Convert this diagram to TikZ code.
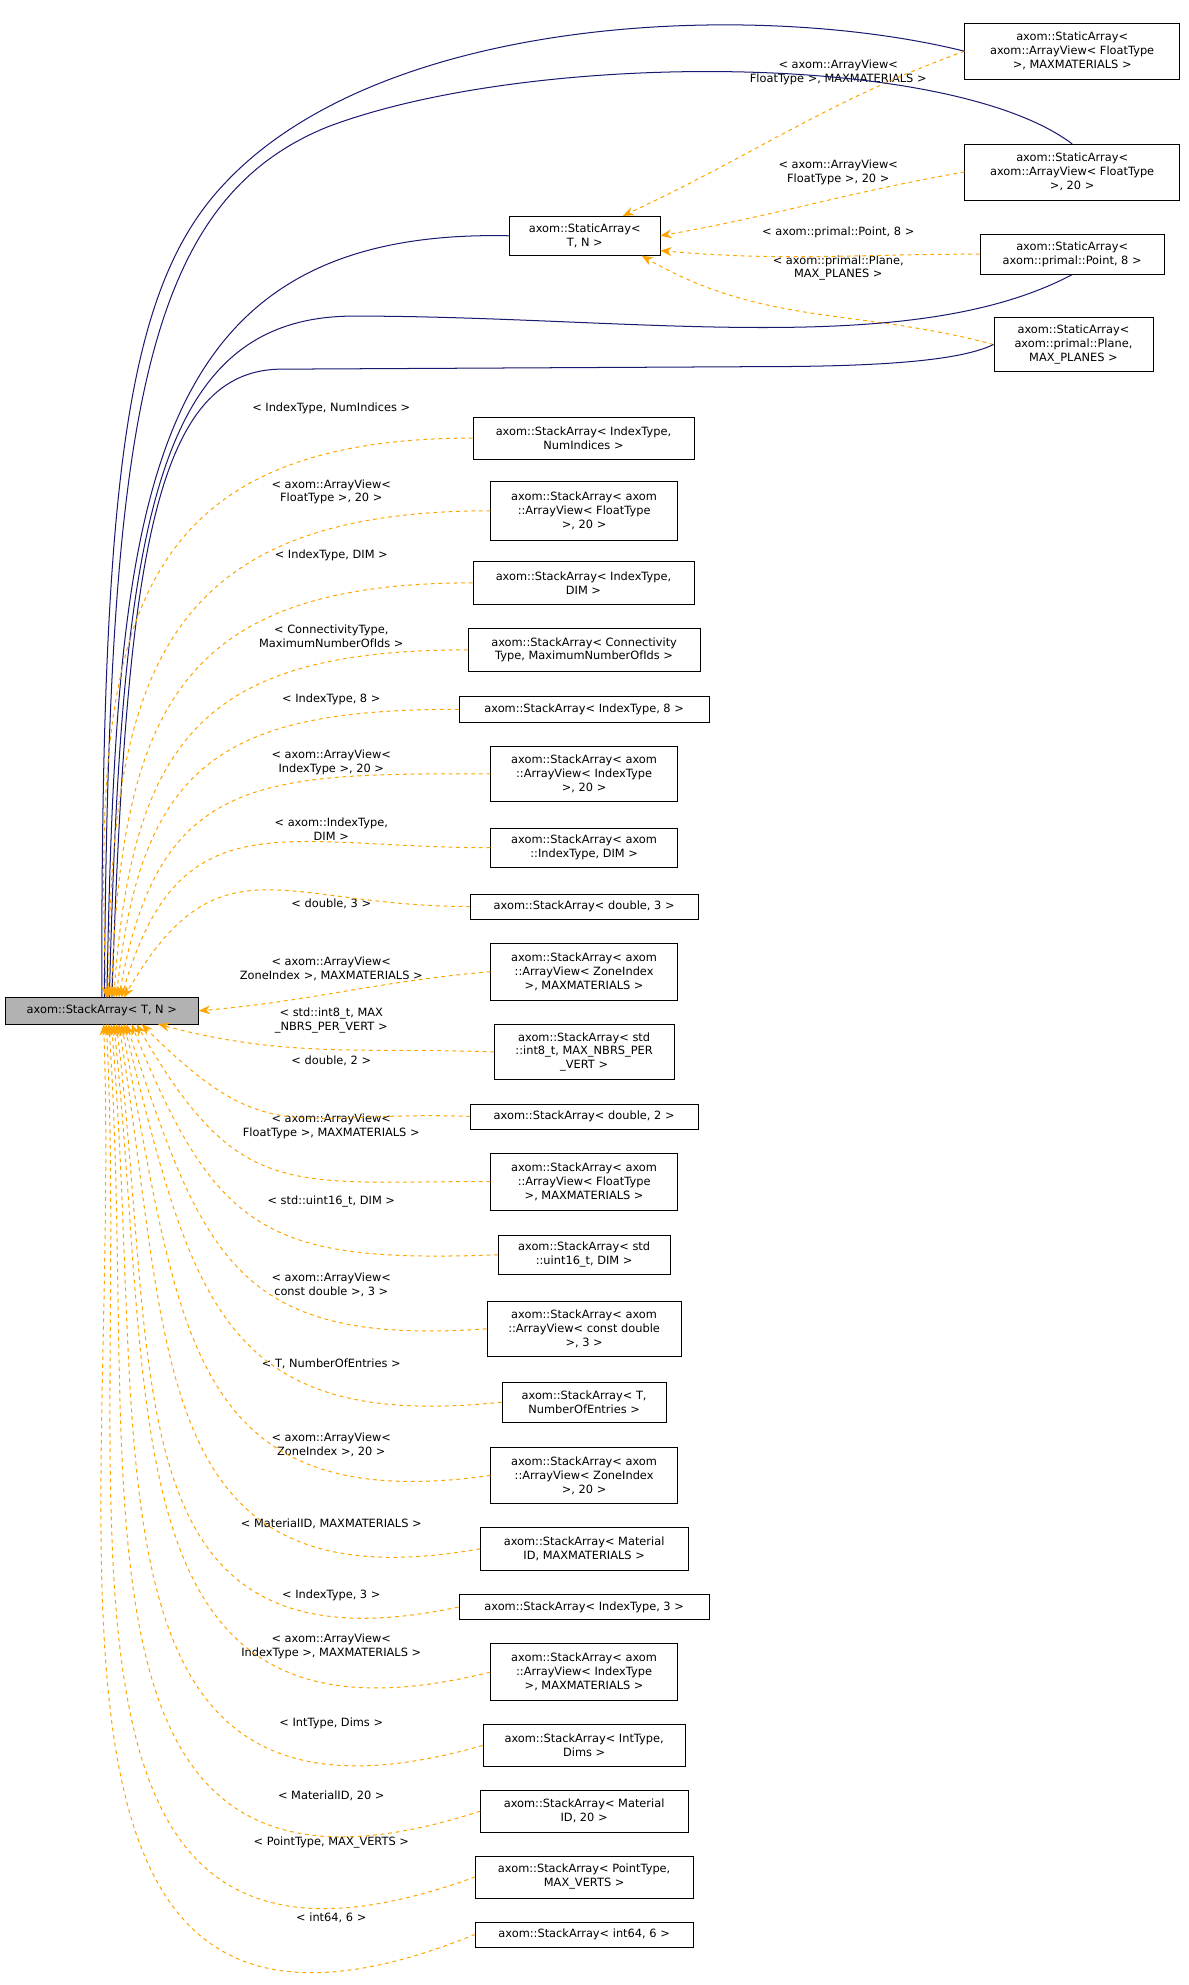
\documentclass[tikz,border=0pt]{standalone}
\usepackage{fontspec}
\setmainfont{DejaVu Sans}
\usetikzlibrary{arrows.meta}
\definecolor{dorange}{RGB}{255,165,0}
\definecolor{dnavy}{RGB}{25,25,112}
\begin{document}
\begin{tikzpicture}[x=1pt,y=-1pt,
  box/.style={draw,inner sep=1pt,align=center,font=\fontsize{9}{11}\selectfont},
  lbl/.style={align=center,font=\fontsize{9}{11}\selectfont},
  dep/.style={draw=dorange,dashed,line width=0.8pt,-{Stealth[length=9,width=7,fill=dorange]}},
  col/.style={draw=dnavy,line width=0.8pt}]
\useasboundingbox (0,0) rectangle (940,1570);
\node[box,fill=gray!60,minimum width=153,minimum height=21] (main) at (80.5,799.5) {axom::StackArray< T, N >};
\node[box,minimum width=119,minimum height=31] (sa) at (462.5,186.5) {axom::StaticArray<\\T, N >};
\node[box,minimum width=170,minimum height=45] (s1) at (848,40.5) {axom::StaticArray<\\ axom::ArrayView< FloatType\\ >, MAXMATERIALS >};
\node[box,minimum width=170,minimum height=44] (s2) at (848,136) {axom::StaticArray<\\ axom::ArrayView< FloatType\\ >, 20 >};
\node[box,minimum width=146,minimum height=32] (s3) at (848,201) {axom::StaticArray<\\ axom::primal::Point, 8 >};
\node[box,minimum width=126,minimum height=43] (s4) at (849,272.5) {axom::StaticArray<\\ axom::primal::Plane,\\ MAX\_PLANES >};
\node[lbl] (l1) at (663,57) {< axom::ArrayView<\\FloatType >, MAXMATERIALS >};
\node[lbl] (l2) at (663,136) {< axom::ArrayView<\\FloatType >, 20 >};
\node[lbl] (l3) at (663,184) {< axom::primal::Point, 8 >};
\node[lbl] (l4) at (663,212) {< axom::primal::Plane,\\MAX\_PLANES >};
\draw[dep] (s1.west) to[out=200,in=25] ([xshift=30]sa.north);
\draw[dep] (s2.west) to[out=190,in=10] (sa.east);
\draw[dep] (s3.west) to[out=180,in=-5] ([yshift=4]sa.south east);
\draw[dep] (s4.west) to[out=165,in=-30] ([xshift=45]sa.south);
% navy
\draw[col] (main.north) .. controls (80,380) and (100,230) .. (175,148) .. controls (300,10) and (600,0) .. (s1.west);
\draw[col] ([xshift=2]main.north) .. controls (86,340) and (110,160) .. (260,100) .. controls (420,40) and (750,40) .. (s2.north);
\draw[col] ([xshift=4]main.north) .. controls (92,400) and (110,180) .. (sa.west);
\draw[col] ([xshift=6]main.north) .. controls (96,420) and (120,250) .. (280,250) .. controls (500,250) and (720,285) .. (s3.south);
\draw[col] ([xshift=8]main.north) .. controls (100,450) and (120,295) .. (220,292) -- (600,290) .. controls (700,290) and (760,285) .. (s4.west);
% stack children
\node[box,minimum width=175,minimum height=33] (c1) at (461.5,346.5) {axom::StackArray< IndexType,\\ NumIndices >};
\node[box,minimum width=148,minimum height=46] (c2) at (462,404) {axom::StackArray< axom\\::ArrayView< FloatType\\ >, 20 >};
\node[box,minimum width=175,minimum height=34] (c3) at (461.5,461) {axom::StackArray< IndexType,\\ DIM >};
\node[box,minimum width=184,minimum height=34] (c4) at (462,514) {axom::StackArray< Connectivity\\Type, MaximumNumberOfIds >};
\node[box,minimum width=198,minimum height=20] (c5) at (462,561) {axom::StackArray< IndexType, 8 >};
\node[box,minimum width=148,minimum height=44] (c6) at (462,612) {axom::StackArray< axom\\::ArrayView< IndexType\\ >, 20 >};
\node[box,minimum width=148,minimum height=31] (c7) at (462,670.5) {axom::StackArray< axom\\::IndexType, DIM >};
\node[box,minimum width=180,minimum height=20] (c8) at (462,717) {axom::StackArray< double, 3 >};
\node[box,minimum width=148,minimum height=45] (c9) at (462,768.5) {axom::StackArray< axom\\::ArrayView< ZoneIndex\\ >, MAXMATERIALS >};
\node[box,minimum width=142,minimum height=44] (c10) at (462,832) {axom::StackArray< std\\::int8\_t, MAX\_NBRS\_PER\\\_VERT >};
\node[box,minimum width=180,minimum height=20] (c11) at (462,883) {axom::StackArray< double, 2 >};
\node[box,minimum width=148,minimum height=45] (c12) at (462,934.5) {axom::StackArray< axom\\::ArrayView< FloatType\\ >, MAXMATERIALS >};
\node[box,minimum width=136,minimum height=31] (c13) at (462,992.5) {axom::StackArray< std\\::uint16\_t, DIM >};
\node[box,minimum width=154,minimum height=44] (c14) at (462,1051) {axom::StackArray< axom\\::ArrayView< const double\\ >, 3 >};
\node[box,minimum width=130,minimum height=32] (c15) at (462,1109) {axom::StackArray< T,\\NumberOfEntries >};
\node[box,minimum width=148,minimum height=44] (c16) at (462,1167) {axom::StackArray< axom\\::ArrayView< ZoneIndex\\ >, 20 >};
\node[box,minimum width=164,minimum height=34] (c17) at (462,1225) {axom::StackArray< Material\\ID, MAXMATERIALS >};
\node[box,minimum width=198,minimum height=20] (c18) at (462,1271) {axom::StackArray< IndexType, 3 >};
\node[box,minimum width=148,minimum height=45] (c19) at (462,1322.5) {axom::StackArray< axom\\::ArrayView< IndexType\\ >, MAXMATERIALS >};
\node[box,minimum width=160,minimum height=33] (c20) at (462,1380.5) {axom::StackArray< IntType,\\Dims >};
\node[box,minimum width=164,minimum height=33] (c21) at (462,1432.5) {axom::StackArray< Material\\ID, 20 >};
\node[box,minimum width=172,minimum height=33] (c22) at (462,1484.5) {axom::StackArray< PointType,\\MAX\_VERTS >};
\node[box,minimum width=172,minimum height=20] (c23) at (462,1530) {axom::StackArray< int64, 6 >};
% labels
\node[lbl] (t1) at (262,323) {< IndexType, NumIndices >};
\node[lbl] (t2) at (262,389) {< axom::ArrayView<\\FloatType >, 20 >};
\node[lbl] (t3) at (262,439) {< IndexType, DIM >};
\node[lbl] (t4) at (262,503) {< ConnectivityType,\\MaximumNumberOfIds >};
\node[lbl] (t5) at (262,553) {< IndexType, 8 >};
\node[lbl] (t6) at (262,603) {< axom::ArrayView<\\IndexType >, 20 >};
\node[lbl] (t7) at (262,656) {< axom::IndexType,\\DIM >};
\node[lbl] (t8) at (262,715) {< double, 3 >};
\node[lbl] (t9) at (262,766) {< axom::ArrayView<\\ZoneIndex >, MAXMATERIALS >};
\node[lbl] (t10) at (262,807) {< std::int8\_t, MAX\\\_NBRS\_PER\_VERT >};
\node[lbl] (t11) at (262,839) {< double, 2 >};
\node[lbl] (t12) at (262,891) {< axom::ArrayView<\\FloatType >, MAXMATERIALS >};
\node[lbl] (t13) at (262,950) {< std::uint16\_t, DIM >};
\node[lbl] (t14) at (262,1016) {< axom::ArrayView<\\const double >, 3 >};
\node[lbl] (t15) at (262,1079) {< T, NumberOfEntries >};
\node[lbl] (t16) at (262,1143) {< axom::ArrayView<\\ZoneIndex >, 20 >};
\node[lbl] (t17) at (262,1205) {< MaterialID, MAXMATERIALS >};
\node[lbl] (t18) at (262,1262) {< IndexType, 3 >};
\node[lbl] (t19) at (262,1302) {< axom::ArrayView<\\IndexType >, MAXMATERIALS >};
\node[lbl] (t20) at (262,1363) {< IntType, Dims >};
\node[lbl] (t21) at (262,1420) {< MaterialID, 20 >};
\node[lbl] (t22) at (262,1457) {< PointType, MAX\_VERTS >};
\node[lbl] (t23) at (262,1517) {< int64, 6 >};
% dependency edges
\foreach \n/\x/\a in {c1/84/92,c2/86/90,c3/88/88,c4/90/86,c5/92/84,c6/94/80,c7/96/74,c8/98/60}
  \draw[dep] (\n.west) to[out=180,in=\a,looseness=1.35] (\x,789);
\draw[dep] (c9.west) to[out=185,in=5] (main.east);
\draw[dep] (c10.west) to[out=178,in=-15] (125,810);
\foreach \n/\x/\a/\o in {c11/112/-45/178,c12/108/-60/180,c13/104/-68/182,c14/100/-72/184,c15/98/-76/186,c16/96/-79/188,c17/94/-81/190,c18/92/-83/192,c19/90/-84/194,c20/88/-85/196,c21/86/-86/198,c22/84/-87/200,c23/82/-88/202}
  \draw[dep] (\n.west) to[out=\o,in=\a,looseness=1.35] (\x,810);
\end{tikzpicture}
\end{document}
